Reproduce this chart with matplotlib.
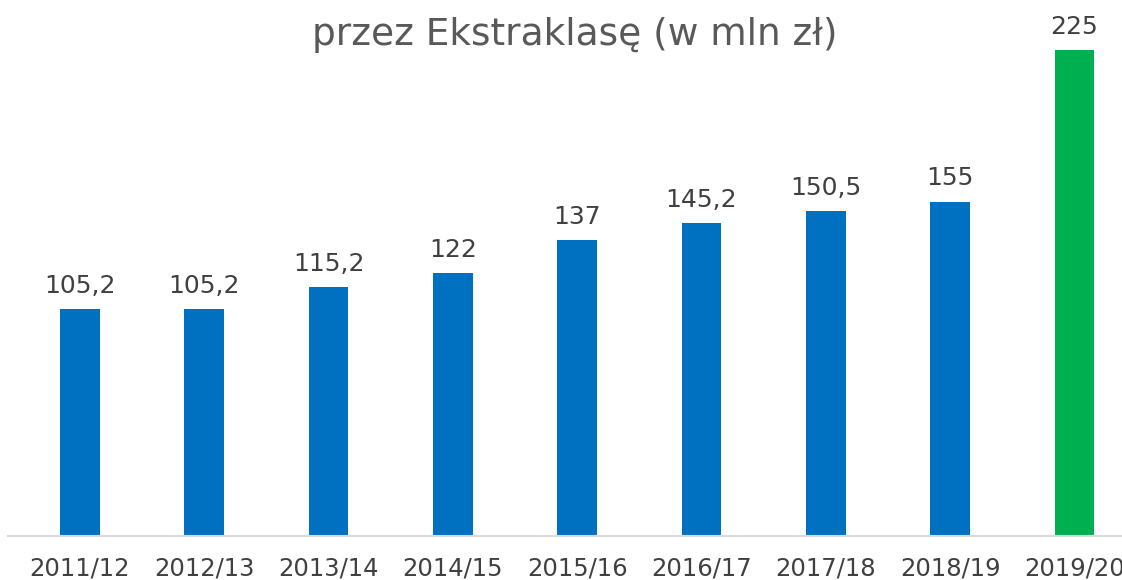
import matplotlib
matplotlib.use('Agg')
import matplotlib.pyplot as plt

seasons = ['2011/12', '2012/13', '2013/14', '2014/15', '2015/16',
           '2016/17', '2017/18', '2018/19', '2019/20']
values = [105.2, 105.2, 115.2, 122, 137, 145.2, 150.5, 155, 225]
labels = ['105,2', '105,2', '115,2', '122', '137', '145,2', '150,5', '155', '225']
colors = ['#0070C0'] * 8 + ['#00B050']

fig = plt.figure(figsize=(11.22, 5.8), dpi=100)
ax = fig.add_axes([8 / 1122, 44 / 580, 1 - 8 / 1122, 536 / 580])

x = range(len(seasons))
bars = ax.bar(x, values, width=0.32, color=colors)

for b, lab in zip(bars, labels):
    ax.annotate(lab, (b.get_x() + b.get_width() / 2, b.get_height()),
                xytext=(0, 8), textcoords='offset points',
                ha='center', va='bottom', fontsize=18, color='#404040')

ax.set_xlim(-0.579, 8.383)
ax.set_ylim(0, 248.4)
ax.set_xticks(list(x))
ax.set_xticklabels(seasons, fontsize=17.5, color='#404040')
ax.tick_params(axis='x', length=0, pad=15)
ax.set_yticks([])
for s in ['top', 'right', 'left']:
    ax.spines[s].set_visible(False)
ax.spines['bottom'].set_color('#D9D9D9')
ax.spines['bottom'].set_linewidth(1.5)

fig.text(575 / 1122, 1 - 45 / 580, 'przez Ekstraklasę (w mln zł)',
         ha='center', va='baseline', fontsize=27, color='#595959')

fig.savefig('out.png', dpi=100)
